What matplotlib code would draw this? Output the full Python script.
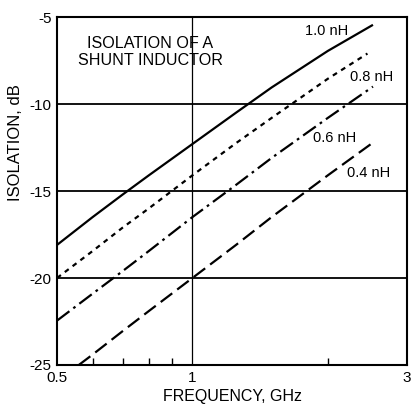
import matplotlib
matplotlib.use("Agg")
import matplotlib.pyplot as plt
from matplotlib.ticker import FixedLocator, NullFormatter, FixedFormatter

plt.rcParams['font.family'] = ['Liberation Sans', 'DejaVu Sans']

# Data
freq_10 = [0.5, 0.6, 0.7, 0.8, 1.0, 1.25, 1.5, 2.0, 2.52]
iso_10 = [-18.1, -16.5, -15.2, -14.1, -12.3, -10.5, -9.05, -6.95, -5.45]

freq_08 = [0.5, 0.6, 0.7, 0.8, 1.0, 1.25, 1.5, 2.0, 2.45]
iso_08 = [-20.0, -18.45, -17.1, -16.0, -14.1, -12.25, -10.8, -8.55, -7.1]

freq_06 = [0.5, 0.6, 0.7, 0.8, 1.0, 1.25, 1.5, 2.0, 2.52]
iso_06 = [-22.45, -20.9, -19.6, -18.45, -16.5, -14.65, -13.1, -10.8, -9.0]

freq_04 = [0.559, 0.6, 0.7, 0.8, 1.0, 1.25, 1.5, 2.0, 2.51]
iso_04 = [-25.0, -24.4, -23.05, -21.9, -20.0, -18.1, -16.5, -14.1, -12.25]

series_labels = ["1.0 nH", "0.8 nH", "0.6 nH", "0.4 nH"]
label_pos = [(1.78, -5.8), (2.24, -8.45), (1.85, -11.95), (2.21, -13.97)]

x_ticks = [0.5, 1, 3]
x_tick_labels = ["0.5", "1", "3"]
x_minor = [0.6, 0.7, 0.8, 0.9, 2]
y_ticks = [-25, -20, -15, -10, -5]
y_tick_labels = ["-25", "-20", "-15", "-10", "-5"]

fig = plt.figure(figsize=(4.11, 4.07), dpi=100)
ax = fig.add_axes([0.1387, 0.1032, 0.8516, 0.8550])

ax.set_xscale('log')
ax.set_xlim(0.5, 3)
ax.set_ylim(-25, -5)

for yv in [-10, -15, -20]:
    ax.axhline(yv, color='black', lw=1.3, zorder=1)
ax.axvline(1, color='black', lw=0.9, zorder=1)

lw = 1.6
ax.plot(freq_10, iso_10, color='black', lw=lw, solid_capstyle='butt')
ax.plot(freq_08, iso_08, color='black', lw=lw, dashes=(2.2, 2.2))
ax.plot(freq_06, iso_06, color='black', lw=lw, dashes=(7, 2.2, 1.2, 2.2))
ax.plot(freq_04, iso_04, color='black', lw=lw, dashes=(6.5, 2.8))

for lab, (xx, yy) in zip(series_labels, label_pos):
    ax.text(xx, yy, lab, fontsize=10.5, ha='left', va='center')

ax.text(0.266, 0.90, "ISOLATION OF A\nSHUNT INDUCTOR", transform=ax.transAxes,
        fontsize=11.6, ha='center', va='center', multialignment='center',
        linespacing=1.15)

ax.xaxis.set_major_locator(FixedLocator(x_ticks))
ax.xaxis.set_major_formatter(FixedFormatter(x_tick_labels))
ax.xaxis.set_minor_locator(FixedLocator(x_minor))
ax.xaxis.set_minor_formatter(NullFormatter())
ax.set_yticks(y_ticks)
ax.set_yticklabels(y_tick_labels)

ax.tick_params(axis='x', which='major', length=0, pad=4, labelsize=11)
ax.tick_params(axis='x', which='minor', direction='in', length=5, width=1)
ax.tick_params(axis='y', length=0, pad=4, labelsize=11)

for s in ax.spines.values():
    s.set_linewidth(1.5)

ax.set_xlabel("FREQUENCY, GHz", fontsize=11.5, labelpad=3)
ax.set_ylabel("ISOLATION, dB", fontsize=12, labelpad=6)
ax.yaxis.set_label_coords(-0.098, 0.64)

fig.savefig("out.png", dpi=100)
